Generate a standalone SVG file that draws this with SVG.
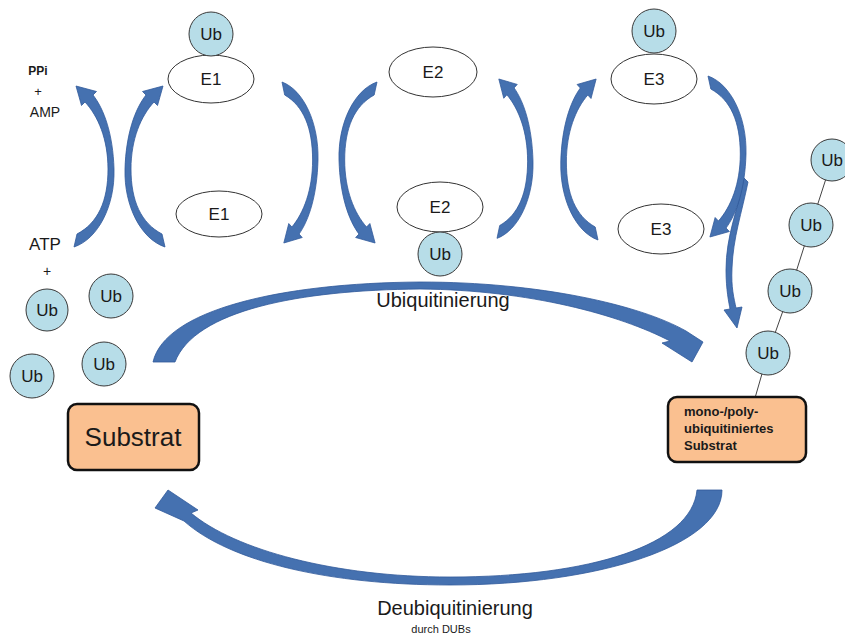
<svg xmlns="http://www.w3.org/2000/svg" xmlns:xlink="http://www.w3.org/1999/xlink" width="845" height="637" viewBox="0 0 845 637">
<style>
.ub{fill:#B7DDE8;stroke:#3a3a3a;stroke-width:1}
.en{fill:#ffffff;stroke:#333333;stroke-width:1}
.t{font-family:"Liberation Sans",Arial,sans-serif;fill:#1a1a1a;text-anchor:middle}
.ubt{font-size:17px}
.et{font-size:17px}
.arr{fill:#4571B0;stroke:#30599A;stroke-width:0.8}
.box{fill:#FAC090;stroke:#111111;stroke-width:2.5}
.chain{stroke:#444444;stroke-width:1;fill:none}
.bt{font-family:"Liberation Sans",Arial,sans-serif;font-size:13px;font-weight:bold;fill:#1a1a1a}
</style>
<defs>
<path id="carc" d="M 0,163 C 24,155 41,122 40,85 C 39,50 30,25 19,11 L 22.5,7.5 L 2,2 L 7.5,21.5 L 11,18 C 24,32 34,55 34,85 C 34,117 24,139 3,150 Z"/>
</defs>
<rect width="845" height="637" fill="#ffffff"/>

<g id="connectors">
  <use xlink:href="#carc" class="arr" transform="translate(74,84)"/>
  <use xlink:href="#carc" class="arr" transform="translate(165,84) scale(-1,1)"/>
  <use xlink:href="#carc" class="arr" transform="translate(282,245) scale(0.9,-1)"/>
  <use xlink:href="#carc" class="arr" transform="translate(377,245) scale(-0.95,-1)"/>
  <use xlink:href="#carc" class="arr" transform="translate(497,77) scale(0.9,0.99)"/>
  <use xlink:href="#carc" class="arr" transform="translate(598,77) scale(-0.93,1)"/>
  <path class="arr" d="M 744,178 C 738,210 726,235 726,270 C 726,290 729,303 730,309 L 724,310 L 737,328 L 742,307 L 736,308 C 734,298 731,288 732,268 C 733,238 742,212 748,182 Z"/>
  <use xlink:href="#carc" class="arr" transform="translate(708,239) scale(0.95,-1)"/>
  <path class="arr" d="M 153,362 C 165,310 280,283 420,282 C 540,282 640,305 686,331 L 703,342 L 692,362 L 662,343 L 670,341 C 620,315 530,290 420,289 C 300,290 195,310 175,362 Z"/>
  <path class="arr" d="M 697,490 L 722,490 C 722,545 600,585 450,585 C 330,585 230,562 184,521 L 155,508 L 168,490 L 198,510 L 191,513 C 235,550 335,577 450,577 C 590,577 692,545 697,490 Z"/>
  <polyline class="chain" points="755,398 768,353 790,291 811,225 832,160"/>
</g>

<g id="labels-left">
  <text class="t" x="38" y="75" style="font-size:12px;font-weight:bold">PPi</text>
  <text class="t" x="38" y="96" style="font-size:13px">+</text>
  <text class="t" x="45" y="117" style="font-size:14px">AMP</text>
  <text class="t" x="45" y="250" style="font-size:17px">ATP</text>
  <text class="t" x="47" y="276" style="font-size:14px">+</text>
</g>

<g id="e1-ub">
  <ellipse class="en" cx="211" cy="79" rx="43" ry="24"/>
  <text class="t et" x="211" y="85">E1</text>
  <circle class="ub" cx="211" cy="34" r="22"/>
  <text class="t ubt" x="211" y="40">Ub</text>
</g>
<g id="e1">
  <ellipse class="en" cx="219" cy="214" rx="43" ry="23"/>
  <text class="t et" x="219" y="220">E1</text>
</g>
<g id="e2">
  <ellipse class="en" cx="433" cy="72" rx="44" ry="25"/>
  <text class="t et" x="433" y="78">E2</text>
</g>
<g id="e2-ub">
  <ellipse class="en" cx="440" cy="207" rx="43" ry="25"/>
  <text class="t et" x="440" y="213">E2</text>
  <circle class="ub" cx="440" cy="254" r="22"/>
  <text class="t ubt" x="440" y="260">Ub</text>
</g>
<g id="e3-ub">
  <ellipse class="en" cx="654" cy="79" rx="43" ry="25"/>
  <text class="t et" x="654" y="85">E3</text>
  <circle class="ub" cx="654" cy="31" r="22"/>
  <text class="t ubt" x="654" y="37">Ub</text>
</g>
<g id="e3">
  <ellipse class="en" cx="661" cy="229" rx="43" ry="25"/>
  <text class="t et" x="661" y="235">E3</text>
</g>

<g id="free-ub">
  <circle class="ub" cx="47" cy="310" r="21"/>
  <text class="t ubt" x="47" y="316">Ub</text>
  <circle class="ub" cx="111" cy="296" r="22"/>
  <text class="t ubt" x="111" y="302">Ub</text>
  <circle class="ub" cx="32" cy="376" r="22"/>
  <text class="t ubt" x="32" y="382">Ub</text>
  <circle class="ub" cx="104" cy="364" r="22"/>
  <text class="t ubt" x="104" y="370">Ub</text>
</g>

<g id="substrat">
  <rect class="box" x="68" y="404" width="131" height="66" rx="9"/>
  <text class="t" x="133" y="446" style="font-size:26px">Substrat</text>
</g>

<g id="ub-chain">
  <circle class="ub" cx="768" cy="353" r="22"/>
  <text class="t ubt" x="768" y="359">Ub</text>
  <circle class="ub" cx="790" cy="291" r="22"/>
  <text class="t ubt" x="790" y="297">Ub</text>
  <circle class="ub" cx="811" cy="225" r="22"/>
  <text class="t ubt" x="811" y="231">Ub</text>
  <circle class="ub" cx="832" cy="160" r="21"/>
  <text class="t ubt" x="832" y="166">Ub</text>
</g>

<g id="ubiquitiniertes-substrat">
  <rect class="box" x="668" y="397" width="138" height="65" rx="9"/>
  <text class="bt" x="684" y="416">mono-/poly-</text>
  <text class="bt" x="684" y="433">ubiquitiniertes</text>
  <text class="bt" x="684" y="450">Substrat</text>
</g>

<g id="process-labels">
  <text class="t" x="443" y="307" style="font-size:20px">Ubiquitinierung</text>
  <text class="t" x="455" y="615" style="font-size:20px">Deubiquitinierung</text>
  <text class="t" x="441" y="633" style="font-size:11px">durch DUBs</text>
</g>
</svg>
